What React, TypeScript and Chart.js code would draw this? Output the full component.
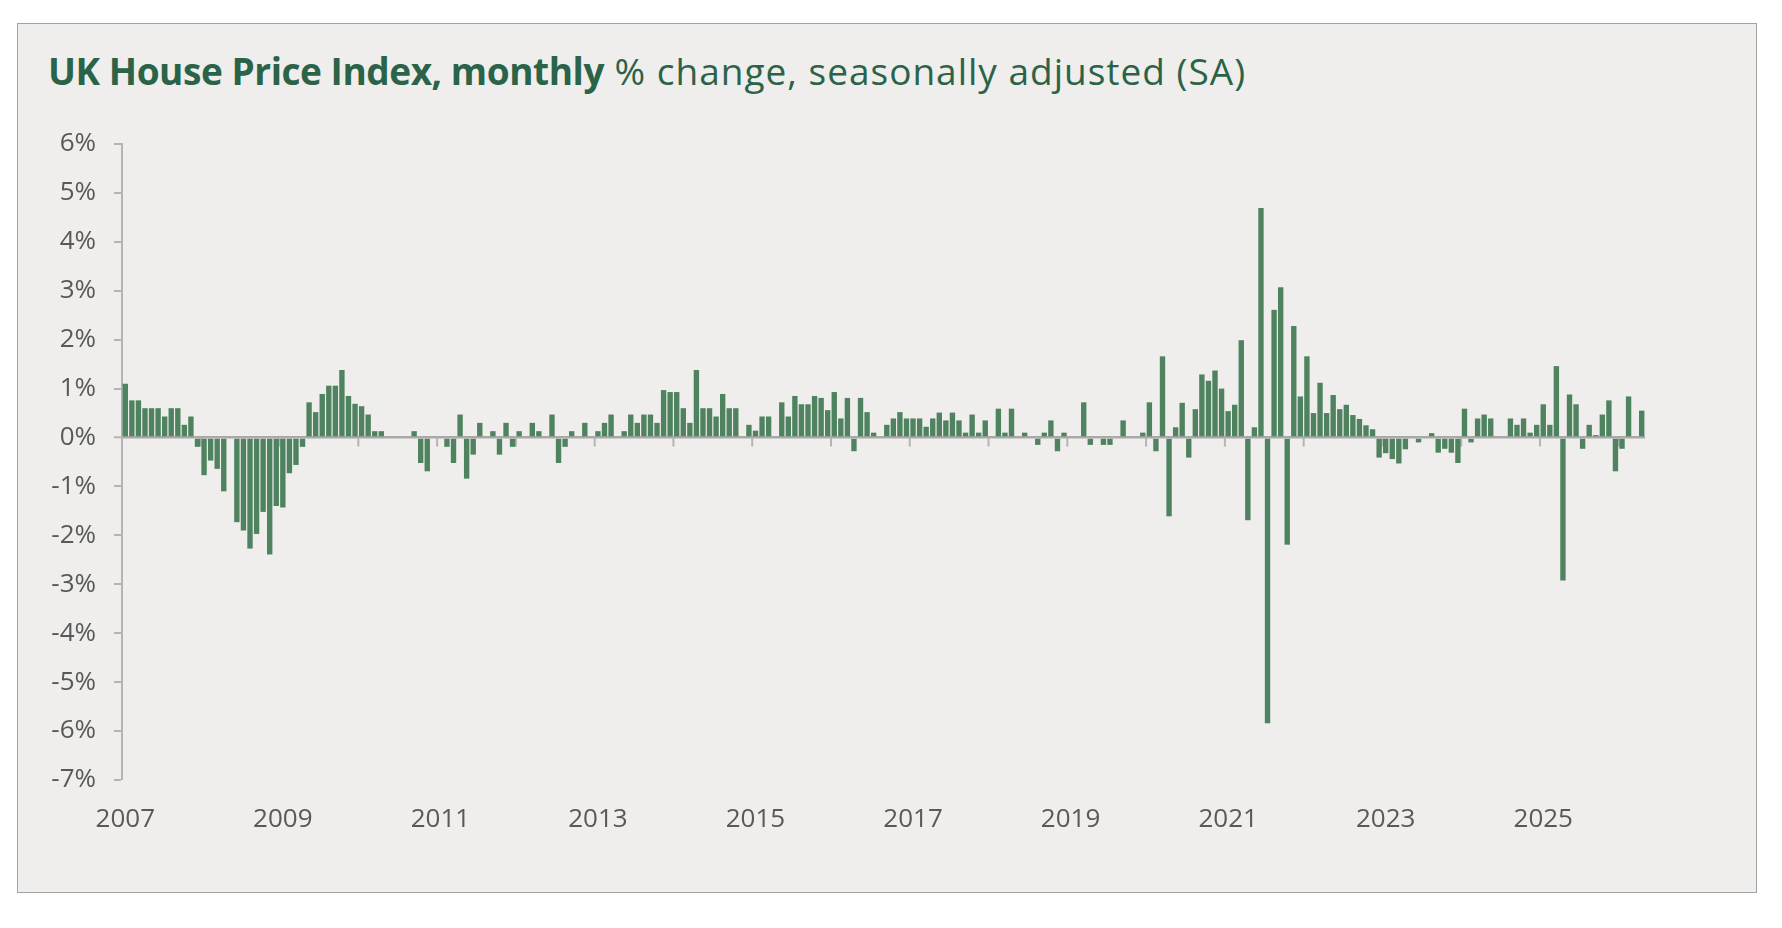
import { useEffect, useRef } from "react";
import {
  Chart,
  BarController,
  BarElement,
  CategoryScale,
  LinearScale,
} from "chart.js";

Chart.register(BarController, BarElement, CategoryScale, LinearScale);

// monthly % change, SA, from Jan 2007
const startYear = 2007;
const yearLabels = ["2007", "2009", "2011", "2013", "2015", "2017", "2019", "2021", "2023", "2025"];
const monthlyChange = [
  // 2007
  1.1, 0.76, 0.76, 0.6, 0.6, 0.6, 0.43, 0.6, 0.6, 0.26, 0.43, -0.19,
  // 2008
  -0.77, -0.47, -0.64, -1.1, 0, -1.73, -1.9, -2.27, -1.97, -1.52, -2.39, -1.4,
  // 2009
  -1.43, -0.73, -0.56, -0.19, 0.72, 0.52, 0.89, 1.06, 1.06, 1.38, 0.85, 0.69,
  // 2010
  0.64, 0.47, 0.13, 0.13, 0, 0, 0, 0, 0.13, -0.52, -0.69, 0,
  // 2011
  0, -0.19, -0.52, 0.47, -0.84, -0.35, 0.3, 0, 0.13, -0.35, 0.3, -0.19,
  // 2012
  0.13, 0, 0.3, 0.13, 0, 0.47, -0.52, -0.19, 0.13, 0, 0.3, 0,
  // 2013
  0.13, 0.3, 0.47, 0, 0.13, 0.47, 0.3, 0.47, 0.47, 0.3, 0.97, 0.93,
  // 2014
  0.93, 0.6, 0.3, 1.38, 0.6, 0.6, 0.43, 0.89, 0.6, 0.6, 0, 0.26,
  // 2015
  0.14, 0.43, 0.43, 0, 0.72, 0.43, 0.85, 0.68, 0.68, 0.85, 0.81, 0.56,
  // 2016
  0.93, 0.39, 0.81, -0.28, 0.81, 0.52, 0.1, 0, 0.26, 0.39, 0.52, 0.39,
  // 2017
  0.39, 0.39, 0.22, 0.39, 0.51, 0.35, 0.51, 0.35, 0.1, 0.47, 0.1, 0.35,
  // 2018
  0, 0.59, 0.1, 0.59, 0, 0.1, 0, -0.15, 0.1, 0.35, -0.28, 0.1,
  // 2019
  0, 0, 0.72, -0.15, 0, -0.15, -0.15, 0, 0.35, 0, 0, 0.1,
  // 2020
  0.72, -0.28, 1.66, -1.61, 0.21, 0.71, -0.41, 0.58, 1.29, 1.16, 1.37, 1.0,
  // 2021
  0.54, 0.67, 1.99, -1.69, 0.21, 4.69, -5.84, 2.61, 3.07, -2.19, 2.28, 0.84,
  // 2022
  1.66, 0.5, 1.12, 0.5, 0.87, 0.58, 0.67, 0.46, 0.38, 0.25, 0.17, -0.41,
  // 2023
  -0.32, -0.44, -0.53, -0.24, 0, -0.1, 0, 0.09, -0.31, -0.23, -0.31, -0.52,
  // 2024
  0.59, -0.1, 0.39, 0.47, 0.39, 0, 0, 0.39, 0.26, 0.39, 0.1, 0.26,
  // 2025
  0.68, 0.26, 1.46, -2.92, 0.88, 0.68, -0.23, 0.26, 0.05, 0.47, 0.76, -0.69,
  // 2026
  -0.23, 0.84, 0, 0.55,
];

const months = monthlyChange.map(
  (_, i) => `${startYear + Math.floor(i / 12)}-${String((i % 12) + 1).padStart(2, "0")}`
);

const barGreen = "#4f8360";
const axisGrey = "#b4b4b4";
const labelGrey = "#595959";
const fontFamily = "'Open Sans', 'Noto Sans', sans-serif";

// small marks hanging under the zero line at each year boundary
const yearTicks = {
  id: "yearTicks",
  beforeDatasetsDraw(chart: Chart) {
    const x = chart.scales.x;
    const y = chart.scales.y;
    const ctx = chart.ctx;
    const step = x.getPixelForValue(1) - x.getPixelForValue(0);
    const y0 = y.getPixelForValue(0);
    ctx.save();
    ctx.strokeStyle = axisGrey;
    ctx.lineWidth = 2;
    for (let k = 12; k < monthlyChange.length; k += 12) {
      const px = x.getPixelForValue(k) - step / 2;
      ctx.beginPath();
      ctx.moveTo(px, y0);
      ctx.lineTo(px, y0 + 9);
      ctx.stroke();
    }
    ctx.restore();
  },
};

export default function App() {
  const ref = useRef<HTMLCanvasElement>(null);
  const chartRef = useRef<Chart | null>(null);

  useEffect(() => {
    if (!ref.current) return;
    if (chartRef.current) chartRef.current.destroy();

    chartRef.current = new Chart(ref.current, {
      type: "bar",
      data: {
        labels: months,
        datasets: [
          {
            label: "Monthly % change (SA)",
            data: monthlyChange,
            backgroundColor: barGreen,
            barPercentage: 0.82,
            categoryPercentage: 1,
          },
        ],
      },
      options: {
        responsive: false,
        animation: false,
        layout: { padding: { top: 121, right: 112, left: 0, bottom: 0 } },
        plugins: {
          legend: { display: false },
          tooltip: { enabled: false },
        },
        scales: {
          x: {
            grid: { display: false, drawTicks: false },
            border: { display: false },
            afterFit: (scale) => {
              scale.height = 113;
            },
            ticks: {
              autoSkip: false,
              maxRotation: 0,
              padding: 24,
              color: labelGrey,
              font: { family: fontFamily, size: 26 },
              callback: (_v, idx) => (idx % 24 === 0 ? yearLabels[idx / 24] : ""),
            },
          },
          y: {
            min: -7,
            max: 6,
            afterFit: (scale) => {
              scale.width = 105;
            },
            border: { display: true, color: axisGrey, width: 2 },
            grid: {
              drawOnChartArea: true,
              color: (c) => (c.tick && c.tick.value === 0 ? "#a9a9a9" : "rgba(0,0,0,0)"),
              lineWidth: (c) => (c.tick && c.tick.value === 0 ? 2.5 : 0),
              tickColor: axisGrey,
              tickWidth: 2,
              tickLength: 8,
            },
            ticks: {
              stepSize: 1,
              padding: 18,
              color: labelGrey,
              font: { family: fontFamily, size: 26 },
              callback: (v) => `${v}%`,
            },
          },
        },
      },
      plugins: [yearTicks],
    });

    return () => chartRef.current?.destroy();
  }, []);

  return (
    <div style={{ position: "absolute", left: 0, top: 0, width: 1782, height: 928, background: "#ffffff" }}>
      <div
        style={{
          position: "absolute",
          left: 17,
          top: 23,
          width: 1740,
          height: 870,
          boxSizing: "border-box",
          border: "1.5px solid #a3a3a3",
          background: "#efeeec",
        }}
      />
      <div
        style={{
          position: "absolute",
          left: 48,
          top: 52,
          lineHeight: "37px",
          fontSize: 37,
          fontFamily,
          color: "#2b6348",
          whiteSpace: "nowrap",
        }}
      >
        <span style={{ fontWeight: 700, letterSpacing: -0.45 }}>UK House Price Index, monthly</span>
        <span style={{ fontWeight: 400, letterSpacing: 1 }}> % change, seasonally adjusted (SA)</span>
      </div>
      <canvas
        ref={ref}
        width={1740}
        height={870}
        style={{ position: "absolute", left: 17, top: 23, width: 1740, height: 870 }}
        role="img"
        aria-label="UK House Price Index monthly percentage change, seasonally adjusted"
      />
    </div>
  );
}
